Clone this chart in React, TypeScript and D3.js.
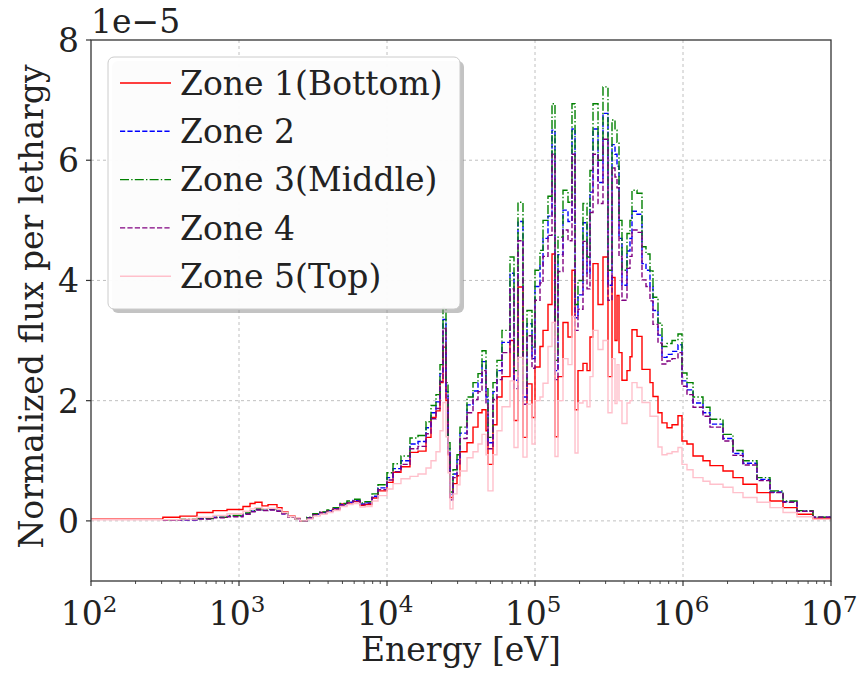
import React from 'react';
import * as d3 from 'd3';

// Energy group boundaries [eV]
const energyEdges = [
  100, 306, 399, 520, 667, 830, 1064, 1187, 1283, 1430,
  1571, 1806, 1953, 2143, 2390, 2584, 2881, 3162, 3526, 3932,
  4317, 4814, 5368, 5893, 6572, 7102, 7920, 8695, 10000, 10980,
  12430, 14300, 16200, 18350, 19830, 21430, 22810, 23900, 25040, 25840,
  26660, 27920, 29720, 31130, 34720, 38120, 41200, 43850, 46660, 48130,
  52020, 55350, 59840, 67780, 72120, 76750, 82970, 88290, 95440, 100000,
  108100, 113300, 122400, 130300, 136500, 143000, 154600, 167100, 177800, 186400,
  195200, 211000, 224600, 235300, 246600, 266600, 288000, 311300, 331400, 347200,
  358200, 369500, 387000, 418400, 438400, 452200, 488900, 528400, 562300, 598400,
  627000, 677800, 721200, 779800, 843000, 925000, 984400, 1064000, 1169000, 1365000,
  1522000, 1864000, 2177000, 2543000, 3162000, 3871000, 4741000, 5893000, 7554000, 10000000,
];

// Normalized flux per lethargy, in units of 1e-5 (null = not plotted)
const zone1 = [
  0.03, 0.06, 0.08, 0.14, 0.17, 0.19, 0.24, 0.29, 0.31, 0.25,
  0.27, 0.22, 0.15, 0.08, 0.04, 0.00, 0.05, 0.11, 0.14, 0.17,
  0.20, 0.28, 0.30, 0.32, 0.26, 0.27, 0.38, 0.50, 0.64, 0.81,
  0.90, 1.14, 1.16, 1.39, 1.72, 1.83, 2.30, 2.89, 2.00, 1.10,
  0.39, 0.62, 0.75, 1.15, 1.30, 1.56, 1.80, 1.85, 1.50, 0.94,
  1.60, 2.06, 2.40, 3.00, 1.67, 3.89, 1.39, 2.28, 1.72, 2.56,
  2.90, 3.17, 3.60, 4.44, 1.40, 2.40, 3.30, 3.06, 4.17, 1.85,
  2.50, 2.62, 2.50, 3.06, 4.28, 3.60, 4.39, 2.40, 4.05, 3.00,
  3.75, 2.80, 2.34, 2.50, 2.73, 3.18, 3.07, 2.52, 2.52, 2.30,
  2.07, 1.80, 1.63, 1.55, 1.60, 1.75, 1.33, 1.28, 1.08, 1.00,
  0.92, 0.83, 0.72, 0.61, 0.47, 0.33, 0.22, 0.11, 0.04,
];
const zone2 = [
  null, 0.01, 0.02, 0.04, 0.06, 0.08, 0.12, 0.16, 0.19, 0.18,
  0.19, 0.17, 0.12, 0.07, 0.03, 0.00, 0.05, 0.11, 0.14, 0.17,
  0.21, 0.27, 0.31, 0.34, 0.28, 0.30, 0.41, 0.55, 0.72, 0.87,
  1.00, 1.28, 1.32, 1.55, 1.80, 1.98, 2.45, 3.35, 2.15, 1.20,
  0.44, 0.78, 1.02, 1.46, 1.93, 2.16, 2.30, 2.65, 2.06, 1.30,
  2.15, 2.50, 2.97, 4.12, 2.34, 4.98, 2.06, 3.28, 2.70, 3.90,
  4.25, 4.70, 5.07, 6.50, 2.50, 4.43, 5.17, 4.98, 6.52, 3.38,
  3.76, 4.96, 4.12, 5.47, 6.52, 5.63, 6.78, 3.92, 6.26, 6.10,
  5.90, 4.70, 3.92, 4.49, 4.70, 5.15, 5.10, 4.28, 4.17, 3.90,
  3.50, 3.09, 2.72, 2.77, 2.82, 2.93, 2.33, 2.18, 1.96, 1.80,
  1.61, 1.37, 1.12, 0.96, 0.69, 0.48, 0.32, 0.16, 0.06,
];
const zone3 = [
  null, 0.02, 0.03, 0.04, 0.06, 0.09, 0.13, 0.17, 0.20, 0.19,
  0.20, 0.18, 0.13, 0.07, 0.03, 0.00, 0.06, 0.12, 0.15, 0.18,
  0.22, 0.29, 0.33, 0.36, 0.30, 0.32, 0.45, 0.60, 0.80, 0.95,
  1.08, 1.38, 1.42, 1.65, 1.92, 2.10, 2.60, 3.55, 2.30, 1.30,
  0.48, 0.85, 1.10, 1.56, 2.06, 2.30, 2.45, 2.83, 2.20, 1.39,
  2.30, 2.67, 3.17, 4.39, 2.50, 5.30, 2.20, 3.50, 2.89, 4.17,
  4.50, 5.00, 5.40, 6.94, 2.67, 4.72, 5.50, 5.30, 6.94, 3.60,
  4.00, 5.28, 4.39, 5.83, 6.94, 6.00, 7.22, 4.17, 6.67, 6.50,
  6.30, 5.00, 4.17, 4.78, 5.00, 5.50, 5.45, 4.56, 4.44, 4.16,
  3.72, 3.29, 2.90, 2.95, 3.00, 3.11, 2.46, 2.30, 2.06, 1.89,
  1.69, 1.44, 1.17, 1.00, 0.72, 0.50, 0.33, 0.17, 0.06,
];
const zone4 = [
  null, 0.01, 0.02, 0.03, 0.05, 0.07, 0.11, 0.15, 0.18, 0.17,
  0.18, 0.16, 0.12, 0.06, 0.03, 0.00, 0.05, 0.10, 0.13, 0.16,
  0.20, 0.26, 0.30, 0.33, 0.27, 0.29, 0.39, 0.52, 0.68, 0.82,
  0.94, 1.20, 1.24, 1.45, 1.70, 1.87, 2.32, 3.20, 2.03, 1.13,
  0.35, 0.72, 0.95, 1.37, 1.80, 2.02, 2.15, 2.50, 1.93, 1.20,
  2.02, 2.35, 2.80, 3.86, 2.20, 4.66, 1.94, 3.08, 2.54, 3.67,
  3.96, 4.40, 4.75, 6.10, 2.35, 4.15, 4.84, 4.66, 6.10, 3.17,
  3.52, 4.65, 3.86, 5.13, 6.10, 5.28, 6.35, 3.67, 5.87, 5.72,
  5.54, 4.40, 3.67, 4.20, 4.40, 4.84, 4.80, 4.01, 3.90, 3.66,
  3.27, 2.96, 2.61, 2.66, 2.70, 2.80, 2.24, 2.10, 1.89, 1.74,
  1.56, 1.33, 1.09, 0.93, 0.67, 0.47, 0.31, 0.16, 0.06,
];
const zone5 = [
  0.02, 0.02, 0.03, 0.06, 0.09, 0.12, 0.16, 0.20, 0.22, 0.20,
  0.21, 0.19, 0.14, 0.07, 0.03, 0.00, 0.03, 0.08, 0.11, 0.14,
  0.17, 0.24, 0.27, 0.29, 0.23, 0.24, 0.33, 0.42, 0.53, 0.62,
  0.70, 0.74, 0.78, 0.88, 1.00, 1.15, 1.50, 1.97, 1.40, 0.80,
  0.20, 0.45, 0.60, 0.83, 1.05, 1.15, 1.28, 1.44, 1.10, 0.50,
  1.10, 1.50, 1.90, 2.33, 1.22, 2.72, 1.06, 1.94, 1.28, 2.00,
  2.06, 2.29, 2.90, 3.30, 1.07, 2.00, 2.70, 2.60, 3.40, 1.13,
  1.96, 2.00, 1.90, 2.40, 3.17, 2.85, 3.00, 1.80, 2.70, 1.95,
  2.60, 2.00, 1.62, 1.96, 2.00, 2.30, 2.22, 1.97, 1.97, 1.74,
  1.74, 1.23, 1.10, 1.12, 1.15, 1.22, 0.94, 0.85, 0.72, 0.66,
  0.61, 0.56, 0.47, 0.39, 0.31, 0.22, 0.14, 0.07, 0.03,
];

const zoneNames = ['Zone 1(Bottom)', 'Zone 2', 'Zone 3(Middle)', 'Zone 4', 'Zone 5(Top)'];
const zoneColors = ['red', 'blue', 'green', 'purple', 'pink'];
const zoneDash = ['none', '5.2,2.2', '9,2.2,1.4,2.2', '5.2,2.2', 'none'];
const yTicks = [0, 2, 4, 6, 8];
const xDecades = [2, 3, 4, 5, 6, 7];
const FONT = 'DejaVu Serif';

export default function App() {
  const W = 864, H = 677;
  const left = 91, right = 831, top = 40, bottom = 581;
  const x = d3.scaleLog().domain([1e2, 1e7]).range([left, right]);
  const y = d3.scaleLinear().domain([-1, 8]).range([bottom, top]);
  const series = [zone1, zone2, zone3, zone4, zone5];
  const line = d3.line<[number, number | null]>()
    .defined(d => d[1] !== null)
    .x(d => x(d[0]))
    .y(d => y(d[1] as number))
    .curve(d3.curveStepAfter);
  const toPts = (vals: (number | null)[]): [number, number | null][] =>
    energyEdges.map((e, i) => [e, vals[Math.min(i, vals.length - 1)]] as [number, number | null]);

  const minor: number[] = [];
  xDecades.slice(0, -1).forEach(k => {
    for (let m = 2; m <= 9; m++) minor.push(m * Math.pow(10, k));
  });

  const fs = 33;
  const legX = 108, legY = 57, legW = 352, legH = 252, rowH = 48.3;

  return (
    <svg width={W} height={H} style={{ position: 'absolute', left: 0, top: 0, background: 'white' }}
      fontFamily={FONT}>
      <defs>
        <clipPath id="plotclip">
          <rect x={left} y={top} width={right - left} height={bottom - top} />
        </clipPath>
      </defs>
      <rect x={0} y={0} width={W} height={H} fill="white" />
      {/* grid */}
      {xDecades.slice(1, -1).map(k => (
        <line key={'gx' + k} x1={x(Math.pow(10, k))} x2={x(Math.pow(10, k))} y1={top} y2={bottom}
          stroke="#b0b0b0" strokeWidth={0.8} strokeDasharray="3,3" />
      ))}
      {yTicks.slice(0, -1).map(t => (
        <line key={'gy' + t} x1={left} x2={right} y1={y(t)} y2={y(t)}
          stroke="#b0b0b0" strokeWidth={0.8} strokeDasharray="3,3" />
      ))}
      {/* series */}
      <g clipPath="url(#plotclip)">
        {series.map((s, i) => (
          <path key={'s' + i} d={line(toPts(s)) || ''} fill="none" stroke={zoneColors[i]}
            strokeWidth={1.4} strokeDasharray={zoneDash[i]} />
        ))}
      </g>
      {/* frame */}
      <rect x={left} y={top} width={right - left} height={bottom - top} fill="none" stroke="#333" strokeWidth={1.3} />
      {/* y ticks */}
      {yTicks.map(t => (
        <g key={'yt' + t}>
          <line x1={left - 5} x2={left} y1={y(t)} y2={y(t)} stroke="#333" strokeWidth={1.2} />
          <text x={left - 12} y={y(t)} dy="0.36em" textAnchor="end" fontSize={fs} fill="#222">{t}</text>
        </g>
      ))}
      {/* x ticks */}
      {xDecades.map(k => (
        <g key={'xt' + k}>
          <line x1={x(Math.pow(10, k))} x2={x(Math.pow(10, k))} y1={bottom} y2={bottom + 5} stroke="#333" strokeWidth={1.2} />
          <text x={x(Math.pow(10, k)) - 2} y={625} textAnchor="middle" fontSize={fs} fill="#222">
            10<tspan dy={-13} fontSize={23}>{k}</tspan>
          </text>
        </g>
      ))}
      {minor.map(v => (
        <line key={'mn' + v} x1={x(v)} x2={x(v)} y1={bottom} y2={bottom + 3} stroke="#333" strokeWidth={0.9} />
      ))}
      {/* offset label */}
      <text x={left} y={33} fontSize={fs} fill="#222">1e−5</text>
      {/* axis labels */}
      <text x={(left + right) / 2} y={661} textAnchor="middle" fontSize={fs} fill="#222">Energy [eV]</text>
      <text transform={`translate(43,${(top + bottom) / 2 - 4}) rotate(-90)`} textAnchor="middle" fontSize={fs} fill="#222">
        Normalized flux per lethargy
      </text>
      {/* legend */}
      <rect x={legX + 4} y={legY + 4} width={legW} height={legH} rx={6} fill="#888" opacity={0.5} />
      <rect x={legX} y={legY} width={legW} height={legH} rx={6} fill="white" fillOpacity={0.95} stroke="#cccccc" strokeWidth={1} />
      {zoneNames.map((n, i) => {
        const cy = legY + 26 + i * rowH;
        return (
          <g key={'lg' + i}>
            <line x1={legX + 12} x2={legX + 63} y1={cy} y2={cy} stroke={zoneColors[i]} strokeWidth={1.4}
              strokeDasharray={zoneDash[i]} />
            <text x={legX + 72} y={cy} dy="0.36em" fontSize={fs} fill="#222">{n}</text>
          </g>
        );
      })}
    </svg>
  );
}
